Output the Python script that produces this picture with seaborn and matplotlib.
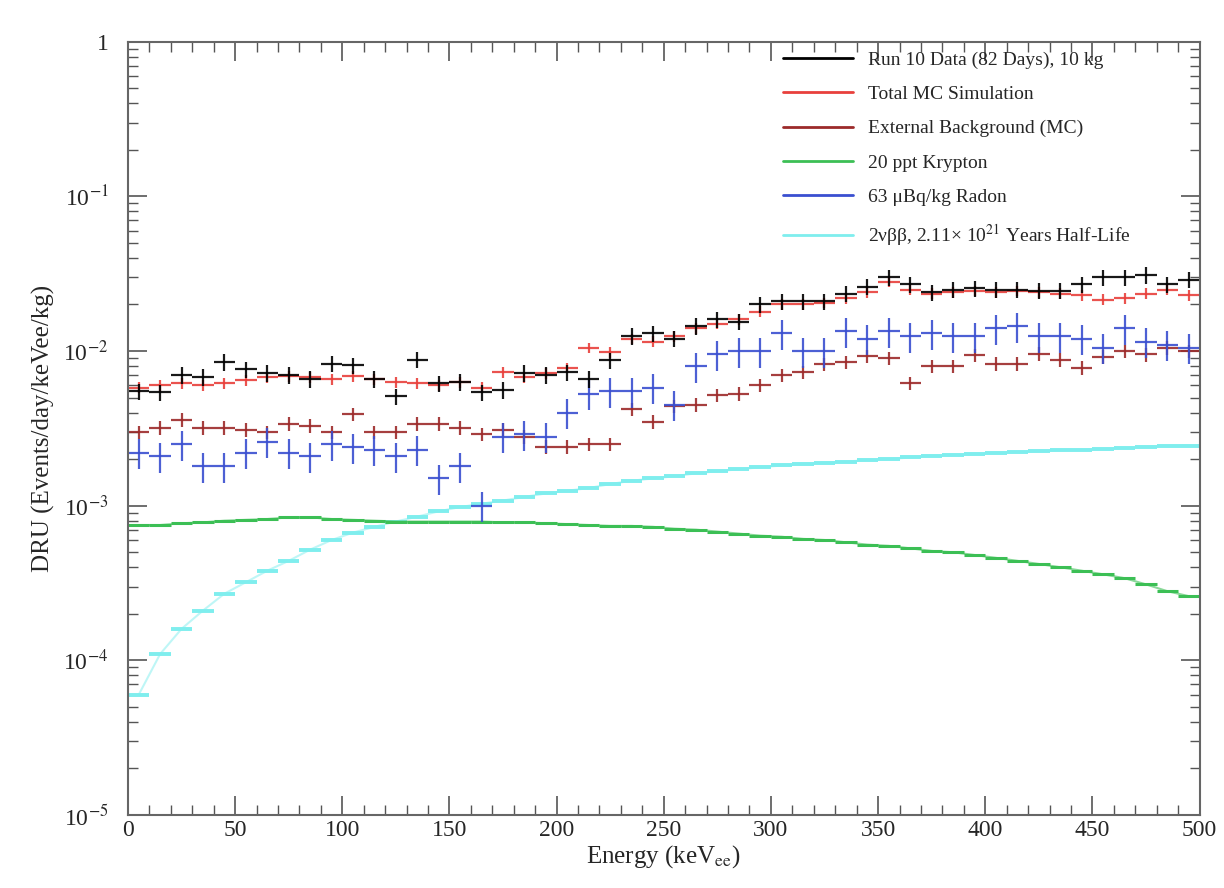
import numpy as np
import pandas as pd
import matplotlib
matplotlib.use("Agg")
import matplotlib.pyplot as plt
from matplotlib.lines import Line2D
from matplotlib.ticker import FixedLocator, FixedFormatter, MultipleLocator, LogLocator, NullFormatter
import seaborn as sns

# bin centres (keV), 10 keV bins
energy = list(range(5, 500, 10))

# Run 10 data (black crosses)
data = [5.5e-3, 5.4e-3, 7.0e-3, 6.8e-3, 8.5e-3, 7.6e-3, 7.2e-3, 7.0e-3, 6.6e-3, 8.3e-3,
        8.1e-3, 6.6e-3, 5.1e-3, 8.8e-3, 6.2e-3, 6.3e-3, 5.4e-3, 5.6e-3, 7.2e-3, 7.0e-3,
        7.3e-3, 6.6e-3, 8.7e-3, 1.25e-2, 1.3e-2, 1.2e-2, 1.45e-2, 1.6e-2, 1.55e-2, 2.0e-2,
        2.1e-2, 2.1e-2, 2.1e-2, 2.35e-2, 2.6e-2, 3.0e-2, 2.7e-2, 2.4e-2, 2.5e-2, 2.55e-2,
        2.5e-2, 2.5e-2, 2.45e-2, 2.45e-2, 2.7e-2, 3.0e-2, 3.0e-2, 3.1e-2, 2.7e-2, 2.9e-2]

# total MC simulation (red)
total_mc = [5.8e-3, 6.0e-3, 6.2e-3, 6.0e-3, 6.2e-3, 6.5e-3, 6.8e-3, 6.9e-3, 6.8e-3, 6.6e-3,
            6.9e-3, 6.6e-3, 6.3e-3, 6.2e-3, 6.0e-3, 6.3e-3, 5.8e-3, 7.3e-3, 6.8e-3, 7.2e-3,
            7.8e-3, 1.05e-2, 9.8e-3, 1.2e-2, 1.15e-2, 1.25e-2, 1.4e-2, 1.5e-2, 1.6e-2, 1.8e-2,
            2.0e-2, 2.0e-2, 2.05e-2, 2.2e-2, 2.4e-2, 2.8e-2, 2.5e-2, 2.35e-2, 2.4e-2, 2.45e-2,
            2.4e-2, 2.45e-2, 2.4e-2, 2.35e-2, 2.3e-2, 2.15e-2, 2.2e-2, 2.35e-2, 2.5e-2, 2.3e-2]

# external background MC (dark red)
external = [3.0e-3, 3.2e-3, 3.6e-3, 3.2e-3, 3.2e-3, 3.1e-3, 3.0e-3, 3.4e-3, 3.3e-3, 3.0e-3,
            3.9e-3, 3.0e-3, 3.0e-3, 3.4e-3, 3.4e-3, 3.2e-3, 2.9e-3, 3.1e-3, 2.8e-3, 2.4e-3,
            2.4e-3, 2.5e-3, 2.5e-3, 4.2e-3, 3.5e-3, 4.4e-3, 4.5e-3, 5.2e-3, 5.3e-3, 6.0e-3,
            7.0e-3, 7.3e-3, 8.2e-3, 8.5e-3, 9.3e-3, 9.0e-3, 6.2e-3, 8.0e-3, 8.0e-3, 9.4e-3,
            8.3e-3, 8.3e-3, 9.6e-3, 8.8e-3, 7.8e-3, 9.2e-3, 1.0e-2, 9.5e-3, 1.05e-2, 1.0e-2]

# 20 ppt krypton (green)
krypton = [7.5e-4, 7.5e-4, 7.7e-4, 7.8e-4, 8.0e-4, 8.1e-4, 8.2e-4, 8.4e-4, 8.4e-4, 8.2e-4,
           8.1e-4, 8.0e-4, 7.9e-4, 7.9e-4, 7.9e-4, 7.9e-4, 7.9e-4, 7.8e-4, 7.8e-4, 7.7e-4,
           7.6e-4, 7.5e-4, 7.4e-4, 7.4e-4, 7.3e-4, 7.1e-4, 7.0e-4, 6.8e-4, 6.6e-4, 6.4e-4,
           6.3e-4, 6.1e-4, 6.0e-4, 5.8e-4, 5.6e-4, 5.5e-4, 5.3e-4, 5.1e-4, 5.0e-4, 4.8e-4,
           4.6e-4, 4.4e-4, 4.2e-4, 4.0e-4, 3.8e-4, 3.6e-4, 3.4e-4, 3.1e-4, 2.8e-4, 2.6e-4]

# 63 uBq/kg radon (blue crosses)
radon = [2.2e-3, 2.1e-3, 2.5e-3, 1.8e-3, 1.8e-3, 2.2e-3, 2.6e-3, 2.2e-3, 2.1e-3, 2.5e-3,
         2.4e-3, 2.3e-3, 2.1e-3, 2.3e-3, 1.5e-3, 1.8e-3, 1.0e-3, 2.8e-3, 2.9e-3, 2.8e-3,
         4.0e-3, 5.3e-3, 5.5e-3, 5.5e-3, 5.8e-3, 4.5e-3, 8.0e-3, 9.5e-3, 1.0e-2, 1.0e-2,
         1.3e-2, 1.0e-2, 1.0e-2, 1.35e-2, 1.2e-2, 1.35e-2, 1.25e-2, 1.3e-2, 1.25e-2, 1.25e-2,
         1.4e-2, 1.45e-2, 1.25e-2, 1.25e-2, 1.2e-2, 1.05e-2, 1.4e-2, 1.15e-2, 1.1e-2, 1.05e-2]

# 2vbb (cyan)
twonu = [6.0e-5, 1.1e-4, 1.6e-4, 2.1e-4, 2.7e-4, 3.2e-4, 3.8e-4, 4.4e-4, 5.2e-4, 6.0e-4,
         6.7e-4, 7.3e-4, 7.9e-4, 8.5e-4, 9.2e-4, 9.8e-4, 1.03e-3, 1.08e-3, 1.14e-3, 1.2e-3,
         1.25e-3, 1.3e-3, 1.38e-3, 1.45e-3, 1.5e-3, 1.55e-3, 1.62e-3, 1.67e-3, 1.72e-3, 1.77e-3,
         1.82e-3, 1.86e-3, 1.9e-3, 1.93e-3, 1.97e-3, 2.0e-3, 2.05e-3, 2.1e-3, 2.12e-3, 2.15e-3,
         2.2e-3, 2.22e-3, 2.25e-3, 2.28e-3, 2.3e-3, 2.33e-3, 2.36e-3, 2.4e-3, 2.42e-3, 2.45e-3]

labels = ["Run 10 Data (82 Days), 10 kg", "Total MC Simulation",
          "External Background (MC)", "20 ppt Krypton",
          "63 \u03bcBq/kg Radon",
          "2\u03bd\u03b2\u03b2, 2.11\u00d7 10$^{21}$ Years Half-Life"]
colors = ["black", "#e8403c", "#9c2a2a", "#3cbf55", "#3a4fd0", "#7feeee"]

# relative statistical error for each cross series
rel_err = {"data": 0.12, "total": 0.08, "external": 0.10, "radon": 0.22}

sns.set_style("ticks")
plt.rcParams["font.family"] = ["Liberation Serif", "DejaVu Serif"]
plt.rcParams["mathtext.fontset"] = "stix"

df = pd.DataFrame({"energy": energy, "krypton": krypton, "twonu": twonu})

fig = plt.figure(figsize=(12.24, 8.88), dpi=100)
ax = fig.add_axes([0.1046, 0.0822, 0.8754, 0.8708])

# smooth components: one horizontal segment per bin, ROOT style
sns.lineplot(data=df, x="energy", y="twonu", color=colors[5], linewidth=1.5,
             alpha=0.5, ax=ax)
ax.errorbar(df["energy"], df["twonu"], xerr=5, fmt="none", ecolor=colors[5],
            elinewidth=2.8)
sns.lineplot(data=df, x="energy", y="krypton", color=colors[3], linewidth=1.5,
             alpha=0.6, ax=ax)
ax.errorbar(df["energy"], df["krypton"], xerr=5, fmt="none", ecolor=colors[3],
            elinewidth=2.2)

series = [(external, colors[2], rel_err["external"]),
          (radon, colors[4], rel_err["radon"]),
          (total_mc, colors[1], rel_err["total"]),
          (data, colors[0], rel_err["data"])]
for vals, col, err in series:
    vals = np.array(vals)
    ax.errorbar(energy, vals, xerr=5, yerr=vals * err, fmt="none",
                ecolor=col, elinewidth=1.6, capsize=0, alpha=0.9)

ax.set_yscale("log")
ax.set_xlim(0, 500)
ax.set_ylim(1e-5, 1)

ax.yaxis.set_major_locator(FixedLocator([1e-5, 1e-4, 1e-3, 1e-2, 1e-1, 1]))
ax.yaxis.set_major_formatter(FixedFormatter(["10$^{-5}$", "10$^{-4}$", "10$^{-3}$",
                                             "10$^{-2}$", "10$^{-1}$", "1"]))
ax.yaxis.set_minor_locator(LogLocator(base=10, subs=np.arange(2, 10)))
ax.yaxis.set_minor_formatter(NullFormatter())
ax.xaxis.set_major_locator(MultipleLocator(50))
ax.xaxis.set_minor_locator(MultipleLocator(10))

ax.tick_params(which="both", direction="in", top=True, right=True, labelsize=17,
               color="#555555")
ax.tick_params(axis="y", pad=14)
ax.tick_params(which="major", length=14, width=1.2)
ax.tick_params(which="minor", length=7, width=1.0)
for sp in ax.spines.values():
    sp.set_color("#666666")
    sp.set_linewidth(1.5)

ax.set_xlabel("Energy (keV$_{\\mathrm{ee}}$)", fontsize=18, labelpad=2)
ax.set_ylabel("DRU (Events/day/keVee/kg)", fontsize=18, labelpad=6)

handles = [Line2D([], [], color=c, linewidth=2.0) for c in colors]
ax.legend(handles, labels, loc="upper right", bbox_to_anchor=(0.945, 1.0),
          frameon=False, fontsize=14, handlelength=3.6, labelspacing=0.85,
          borderaxespad=0.1)

fig.savefig("out.png", dpi=100)
